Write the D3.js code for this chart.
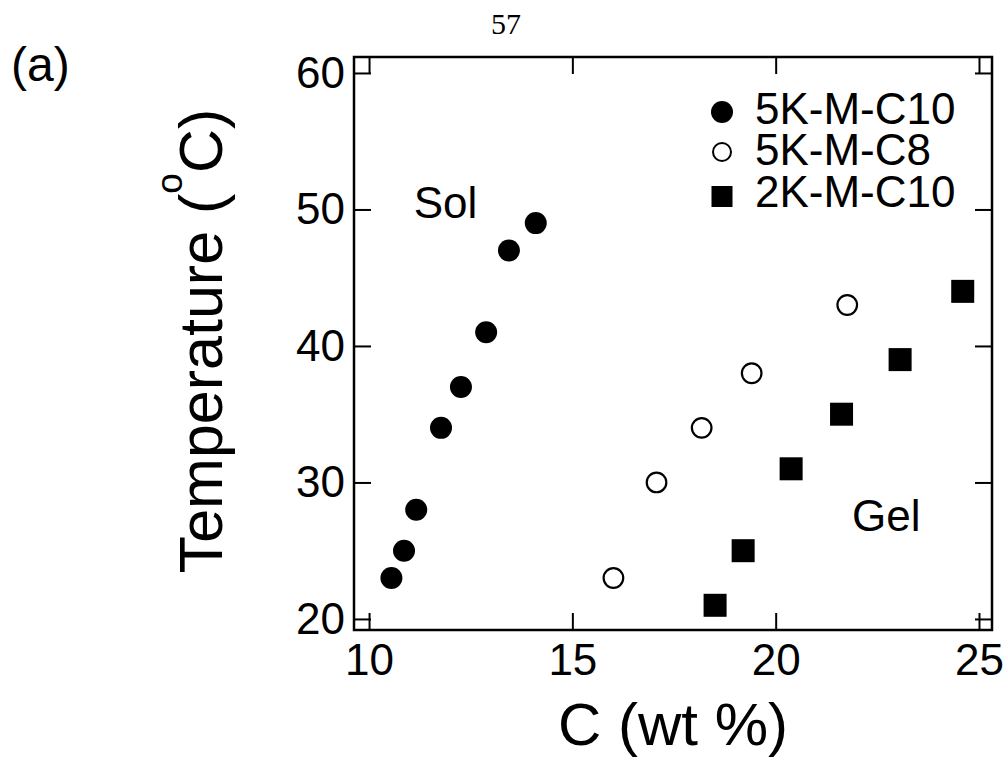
<!DOCTYPE html>
<html>
<head>
<meta charset="utf-8">
<script src="https://cdn.jsdelivr.net/npm/d3@7"></script>
<style>
  body { margin: 0; background: #fff; }
  svg { display: block; }
</style>
</head>
<body>
<div id="chart"></div>
<script>
// data: concentration (wt %) vs transition temperature (C)
const c10_5k_conc = [10.55, 10.86, 11.16, 11.77, 12.26, 12.88, 13.44, 14.1];
const c10_5k_temp = [23, 25, 28, 34, 37, 41, 47, 49];

const c8_5k_conc = [16.01, 17.07, 18.18, 19.41, 21.76];
const c8_5k_temp = [23, 30, 34, 38, 43];

const c10_2k_conc = [18.51, 19.2, 20.38, 21.62, 23.06, 24.6];
const c10_2k_temp = [21, 25, 31, 35, 39, 44];

const series_names = ["5K-M-C10", "5K-M-C8", "2K-M-C10"];
const x_ticks = [10, 15, 20, 25];
const y_ticks = [20, 30, 40, 50, 60];

const region_labels = [
  {text: "Sol", c: 11.1, t: 49.4},
  {text: "Gel", c: 21.88, t: 26.45}
];

const width = 1008, height = 761;
const frame = {left: 354, right: 992, top: 57, bottom: 630};
const font = "'Liberation Sans', Arial, sans-serif";

const svg = d3.select("#chart").append("svg")
  .attr("width", width)
  .attr("height", height);

svg.append("rect").attr("width", width).attr("height", height).attr("fill", "#fff");

let x = d3.scaleLinear().domain([9.63, 25.32]).range([frame.left, frame.right]);
let y = d3.scaleLinear().domain([19.19, 61.17]).range([frame.bottom, frame.top]);

// page number and panel letter
svg.append("text")
  .attr("x", 506)
  .attr("y", 34)
  .attr("text-anchor", "middle")
  .attr("font-family", "'Liberation Serif', 'Times New Roman', serif")
  .attr("font-size", "30px")
  .text("57");

svg.append("text")
  .attr("x", 11)
  .attr("y", 81)
  .attr("font-family", font)
  .attr("font-size", "48px")
  .text("(a)");

// ticks point inward on all four sides
function style_axis(g) {
  g.select(".domain").remove();
  g.selectAll(".tick line").attr("stroke", "#000").attr("stroke-width", 2);
  g.selectAll(".tick text")
    .attr("fill", "#000")
    .attr("font-family", font)
    .attr("font-size", "44px");
}

svg.append("g")
  .attr("transform", `translate(0, ${frame.bottom})`)
  .call(d3.axisBottom(x).tickValues(x_ticks).tickSize(-17).tickPadding(14))
  .call(style_axis);

svg.append("g")
  .attr("transform", `translate(0, ${frame.top})`)
  .call(d3.axisTop(x).tickValues(x_ticks).tickSize(-17).tickFormat(""))
  .call(style_axis);

svg.append("g")
  .attr("transform", `translate(${frame.left}, 0)`)
  .call(d3.axisLeft(y).tickValues(y_ticks).tickSize(-17).tickPadding(9))
  .call(style_axis);

svg.append("g")
  .attr("transform", `translate(${frame.right}, 0)`)
  .call(d3.axisRight(y).tickValues(y_ticks).tickSize(-17).tickFormat(""))
  .call(style_axis);

svg.append("rect")
  .attr("x", frame.left)
  .attr("y", frame.top)
  .attr("width", frame.right - frame.left)
  .attr("height", frame.bottom - frame.top)
  .attr("fill", "none")
  .attr("stroke", "#000")
  .attr("stroke-width", 2.5);

// axis titles
svg.append("text")
  .attr("x", (frame.left + frame.right) / 2)
  .attr("y", 745)
  .attr("text-anchor", "middle")
  .attr("font-family", font)
  .attr("font-size", "60px")
  .text("C (wt %)");

let ytitle = svg.append("text")
  .attr("transform", "translate(222, 341) rotate(-90)")
  .attr("text-anchor", "middle")
  .attr("font-family", font)
  .attr("font-size", "61px");
ytitle.append("tspan").text("Temperature (");
ytitle.append("tspan").attr("font-size", "37px").attr("dy", -40).text("o");
ytitle.append("tspan").attr("dy", 40).text("C)");

// region labels
svg.selectAll(".region")
  .data(region_labels)
  .join("text")
    .attr("class", "region")
    .attr("x", d => x(d.c))
    .attr("y", d => y(d.t))
    .attr("font-family", font)
    .attr("font-size", "44px")
    .text(d => d.text);

// markers
const filled_circles = c10_5k_conc.map((c, i) => ({c: c, t: c10_5k_temp[i]}));
const open_circles = c8_5k_conc.map((c, i) => ({c: c, t: c8_5k_temp[i]}));
const squares = c10_2k_conc.map((c, i) => ({c: c, t: c10_2k_temp[i]}));

svg.append("g").selectAll("circle")
  .data(filled_circles)
  .join("circle")
    .attr("cx", d => x(d.c))
    .attr("cy", d => y(d.t))
    .attr("r", 11)
    .attr("fill", "#000");

svg.append("g").selectAll("circle")
  .data(open_circles)
  .join("circle")
    .attr("cx", d => x(d.c))
    .attr("cy", d => y(d.t))
    .attr("r", 9.8)
    .attr("fill", "#fff")
    .attr("stroke", "#000")
    .attr("stroke-width", 2.2);

const sq = 23;
svg.append("g").selectAll("rect")
  .data(squares)
  .join("rect")
    .attr("x", d => x(d.c) - sq / 2)
    .attr("y", d => y(d.t) - sq / 2)
    .attr("width", sq)
    .attr("height", sq)
    .attr("fill", "#000");

// legend
const legend = svg.append("g").attr("transform", "translate(722, 0)");
const legend_rows = [124, 165, 207];

legend.append("circle").attr("cx", 0).attr("cy", legend_rows[0] - 12).attr("r", 11).attr("fill", "#000");
legend.append("circle").attr("cx", 0).attr("cy", legend_rows[1] - 13).attr("r", 9)
  .attr("fill", "#fff").attr("stroke", "#000").attr("stroke-width", 2);
legend.append("rect").attr("x", -10.5).attr("y", legend_rows[2] - 21).attr("width", 21).attr("height", 21).attr("fill", "#000");

legend.selectAll("text")
  .data(series_names)
  .join("text")
    .attr("x", 33)
    .attr("y", (d, i) => legend_rows[i])
    .attr("font-family", font)
    .attr("font-size", "44px")
    .text(d => d);
</script>
</body>
</html>
